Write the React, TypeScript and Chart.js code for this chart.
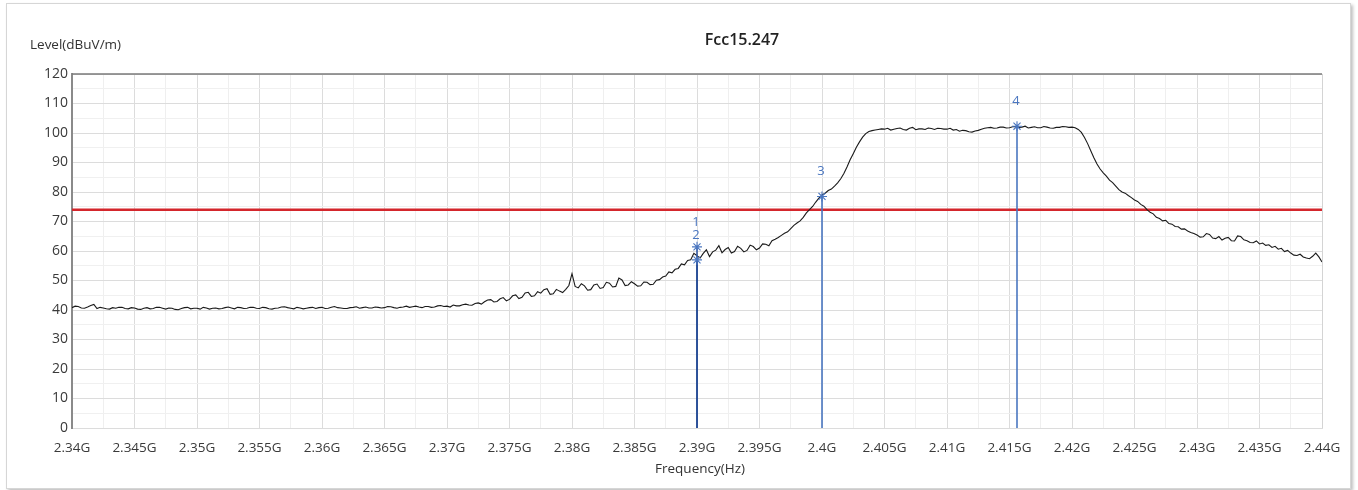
import React, { useEffect, useRef } from "react";
import { Chart, registerables } from "chart.js";

Chart.register(...registerables);

// Sweep definition (uniform analyzer sweep)
const freqStartGHz = 2.34;
const freqStepGHz = 0.00025;

// Measured level (dBuV/m), one value per sweep point, 2.340G .. 2.440G (20 points per 5 MHz)
const levels: number[] = [
  40.8, 41.3, 41.2, 40.7, 40.6, 41.0, 41.5, 41.9, 40.5, 40.9, 40.7, 40.4, 40.3, 40.8, 40.6, 40.9, 40.9, 40.5, 40.4, 40.8,
  40.7, 40.3, 40.2, 40.6, 40.8, 40.4, 40.5, 40.9, 40.9, 40.6, 40.3, 40.7, 40.6, 40.2, 40.1, 40.5, 40.8, 40.9, 40.4, 40.6,
  40.6, 40.3, 40.9, 40.7, 40.3, 40.6, 40.7, 40.4, 40.5, 40.8, 41.0, 40.7, 40.4, 40.9, 40.8, 40.5, 40.6, 40.9, 40.9, 40.6,
  40.5, 40.9, 40.8, 40.4, 40.3, 40.6, 40.7, 41.0, 41.1, 40.8, 40.6, 40.4, 40.9, 40.7, 40.4, 40.6, 40.8, 40.9, 40.5, 40.8,
  40.9, 40.5, 40.6, 40.9, 41.2, 40.8, 40.7, 40.5, 40.5, 40.8, 40.9, 41.1, 40.6, 40.8, 41.0, 40.7, 40.7, 41.0, 40.9, 40.7,
  40.8, 41.2, 41.1, 40.8, 40.6, 40.9, 41.0, 41.3, 40.9, 41.1, 41.3, 41.0, 40.8, 41.2, 41.2, 40.9, 41.0, 41.4, 41.5, 41.2,
  41.3, 41.0, 41.7, 41.4, 41.4, 41.8, 42.0, 41.7, 41.6, 42.2, 42.4, 42.0, 42.8, 43.4, 43.5, 42.7, 42.9, 43.8, 44.2, 43.1,
  43.6, 44.8, 45.1, 43.9, 44.3, 45.8, 46.0, 44.6, 44.8, 46.2, 45.7, 46.9, 47.2, 45.3, 45.5, 47.0, 46.4, 45.9, 47.0, 48.3,
  52.3, 48.0, 47.5, 48.9, 48.2, 46.7, 46.9, 48.5, 48.8, 47.3, 47.6, 49.4, 49.1, 47.8, 48.0, 50.8, 50.2, 48.3, 48.5, 49.6,
  48.9, 48.1, 48.2, 49.5, 49.4, 48.6, 48.7, 50.1, 50.3, 51.2, 51.5, 52.9, 52.6, 53.8, 54.1, 55.6, 55.3, 56.8, 57.0, 59.2,
  58.4, 57.6, 59.2, 60.4, 58.1, 59.7, 60.3, 61.8, 59.4, 60.5, 61.2, 59.3, 59.8, 61.6, 60.9, 59.7, 60.2, 62.0, 61.5, 60.4,
  61.0, 62.4, 62.3, 61.8, 63.5, 64.0, 64.6, 65.3, 66.0, 66.5, 67.6, 68.7, 69.5, 70.2, 71.4, 72.9, 74.0, 75.1, 76.6, 77.9,
  79.0, 79.6, 80.5, 81.0, 82.0, 83.1, 84.5, 86.3, 88.5, 90.9, 93.0, 95.2, 97.0, 98.6, 99.8, 100.5, 100.8, 101.0, 101.2, 101.4,
  101.3, 101.6, 101.0, 101.3, 101.5, 101.7, 101.2, 101.0, 101.6, 101.9, 101.1, 101.4, 101.4, 101.2, 101.7, 101.5, 101.2, 101.6, 101.5, 101.3,
  101.3, 101.6, 101.0, 101.2, 100.6, 100.9, 100.8, 100.4, 100.3, 100.7, 100.9, 101.3, 101.6, 101.8, 101.9, 101.6, 101.7, 102.0, 102.0, 101.7,
  101.8, 102.1, 102.2, 101.9, 102.0, 102.3, 101.7, 101.9, 102.1, 101.8, 101.8, 102.2, 102.0, 101.7, 101.6, 101.9, 101.9, 102.2, 102.1, 101.9,
  102.0, 101.8, 101.2, 100.2, 98.5, 96.4, 94.0, 91.6, 89.5, 87.8, 86.5, 85.4, 84.0, 83.2, 82.0, 80.8, 80.0, 79.6, 78.8, 78.1,
  77.3, 76.8, 75.8, 75.2, 74.0, 73.1, 72.6, 71.4, 71.0, 70.2, 70.4, 69.3, 69.1, 68.3, 68.2, 67.4, 67.5, 66.8, 66.3, 65.9,
  65.4, 64.7, 64.8, 65.9, 65.6, 64.4, 64.2, 64.9, 63.7, 64.3, 64.6, 63.5, 63.4, 65.1, 64.9, 63.8, 63.5, 62.9, 62.8, 63.4,
  62.4, 62.7, 61.9, 62.1, 61.2, 61.6, 60.6, 60.9, 59.8, 60.2, 59.3, 58.6, 58.5, 58.9, 58.0, 57.6, 57.4, 58.2, 59.3, 58.0,
  56.3,
];

const limitLevel = 74;

const xTickValues: number[] = [
  2.34, 2.345, 2.35, 2.355, 2.36, 2.365, 2.37, 2.375, 2.38, 2.385, 2.39,
  2.395, 2.4, 2.405, 2.41, 2.415, 2.42, 2.425, 2.43, 2.435, 2.44,
];
const xTickLabels: string[] = [
  "2.34G", "2.345G", "2.35G", "2.355G", "2.36G", "2.365G", "2.37G", "2.375G",
  "2.38G", "2.385G", "2.39G", "2.395G", "2.4G", "2.405G", "2.41G", "2.415G",
  "2.42G", "2.425G", "2.43G", "2.435G", "2.44G",
];
const yTickValues: number[] = [0, 10, 20, 30, 40, 50, 60, 70, 80, 90, 100, 110, 120];

const markerNames: string[] = ["1", "2", "3", "4"];
const markerFreqs: number[] = [2.39, 2.39, 2.4, 2.4156];
const markerLevels: number[] = [61.4, 57.0, 78.5, 102.3];

const chartTitle = "Fcc15.247";
const yTitle = "Level(dBuV/m)";
const xTitle = "Frequency(Hz)";

const FONT = "'Open Sans', 'Noto Sans', sans-serif";
const MARKER_COLOR = "#4a76c0";

export default function App() {
  const ref = useRef<HTMLCanvasElement | null>(null);

  useEffect(() => {
    if (!ref.current) return;

    const trace = levels.map((v, i) => ({ x: freqStartGHz + i * freqStepGHz, y: v }));

    const markerLineSets = markerFreqs.map((f, i) => ({
      type: "line" as const,
      data: [
        { x: f, y: 0 },
        { x: f, y: markerLevels[i] },
      ],
      borderColor: i < 2 ? "rgba(25,65,145,0.85)" : MARKER_COLOR,
      borderWidth: 1.6,
      pointRadius: 0,
    }));

    const overlay = {
      id: "overlay",
      beforeDatasetsDraw(chart: any) {
        const { ctx, chartArea } = chart;
        ctx.save();
        ctx.strokeStyle = "#7a7a7a";
        ctx.lineWidth = 1.5;
        ctx.beginPath();
        ctx.moveTo(chartArea.left, chartArea.top);
        ctx.lineTo(chartArea.right, chartArea.top);
        ctx.stroke();
        ctx.strokeStyle = "#d4d4d4";
        ctx.lineWidth = 1;
        ctx.beginPath();
        ctx.moveTo(chartArea.right + 0.5, chartArea.top);
        ctx.lineTo(chartArea.right + 0.5, chartArea.bottom);
        ctx.stroke();
        ctx.restore();
      },
      afterDraw(chart: any) {
        const { ctx, chartArea, scales } = chart;
        ctx.save();
        ctx.textBaseline = "middle";
        ctx.textAlign = "center";
        ctx.fillStyle = "#222";
        ctx.font = `600 16px ${FONT}`;
        ctx.fillText(chartTitle, chartArea.left + (chartArea.right - chartArea.left) / 2 + 45, 40);
        ctx.font = `13.5px ${FONT}`;
        ctx.fillStyle = "#333";
        ctx.textAlign = "left";
        ctx.fillText(yTitle, 30, 45);
        ctx.textAlign = "center";
        ctx.fillText(xTitle, chartArea.left + (chartArea.right - chartArea.left) / 2 + 3, 469);

        ctx.fillStyle = MARKER_COLOR;
        ctx.font = `13px ${FONT}`;
        markerNames.forEach((name, i) => {
          const px = scales.x.getPixelForValue(markerFreqs[i]);
          const py = scales.y.getPixelForValue(markerLevels[i]);
          ctx.fillText(name, px - 1, py - 25);
        });
        ctx.restore();
      },
    };

    const chart = new Chart(ref.current, {
      type: "line",
      data: {
        datasets: [
          {
            type: "scatter" as const,
            data: markerFreqs.map((f, i) => ({ x: f, y: markerLevels[i] })),
            pointStyle: "star",
            pointRadius: 5,
            borderColor: MARKER_COLOR,
            backgroundColor: MARKER_COLOR,
            borderWidth: 1.1,
          } as any,
          ...markerLineSets,
          {
            data: trace,
            borderColor: "#1a1a1a",
            borderWidth: 1.1,
            pointRadius: 0,
            tension: 0,
          },
          {
            data: [
              { x: freqStartGHz, y: limitLevel },
              { x: xTickValues[xTickValues.length - 1], y: limitLevel },
            ],
            borderColor: "#d4262c",
            borderWidth: 2.6,
            pointRadius: 0,
          },
        ],
      },
      options: {
        animation: false,
        responsive: true,
        maintainAspectRatio: false,
        layout: { padding: { top: 74, right: 36, left: 0, bottom: 0 } },
        plugins: {
          legend: { display: false },
          tooltip: { enabled: false },
          title: { display: false },
        },
        scales: {
          x: {
            type: "linear",
            min: xTickValues[0],
            max: xTickValues[xTickValues.length - 1],
            afterBuildTicks: (scale: any) => {
              const t: any[] = [];
              xTickValues.forEach((v, i) => {
                t.push({ value: v, major: true });
                if (i < xTickValues.length - 1) t.push({ value: (v + xTickValues[i + 1]) / 2, major: false });
              });
              scale.ticks = t;
            },
            afterFit: (scale: any) => {
              scale.height = 62;
            },
            ticks: {
              autoSkip: false,
              maxRotation: 0,
              padding: 12,
              color: "#3a3a3a",
              font: { family: FONT, size: 13.5 },
              callback: (value: any) => {
                const idx = xTickValues.findIndex((v) => Math.abs(v - value) < 1e-7);
                return idx >= 0 ? xTickLabels[idx] : "";
              },
            },
            grid: {
              drawTicks: false,
              color: (c: any) => (c.tick && c.tick.major ? "#dcdcdc" : "#efefef"),
              lineWidth: 1,
            },
            border: { display: true, color: "#dcdcdc", width: 1 },
          },
          y: {
            type: "linear",
            min: 0,
            max: 120,
            afterBuildTicks: (scale: any) => {
              const t: any[] = [];
              yTickValues.forEach((v, i) => {
                t.push({ value: v, major: true });
                if (i < yTickValues.length - 1) t.push({ value: v + 5, major: false });
              });
              scale.ticks = t;
            },
            afterFit: (scale: any) => {
              scale.width = 72;
            },
            ticks: {
              autoSkip: false,
              padding: 4,
              color: "#3a3a3a",
              font: { family: FONT, size: 14 },
              callback: (value: any) => (yTickValues.includes(value) ? String(value) : ""),
            },
            grid: {
              drawTicks: false,
              color: (c: any) => (c.tick && c.tick.major ? "#dcdcdc" : "#f0f0f0"),
              lineWidth: 1,
            },
            border: { display: true, color: "#8a8a8a", width: 2 },
          },
        },
      },
      plugins: [overlay],
    } as any);

    return () => chart.destroy();
  }, []);

  return (
    <div style={{ position: "absolute", left: 0, top: 0, width: 1358, height: 490, background: "#fff" }}>
      <div
        style={{
          position: "absolute",
          left: 6,
          top: 3,
          width: 1343,
          height: 484,
          border: "1px solid #d6d6d6",
          boxShadow: "2px 2px 3px rgba(0,0,0,0.25)",
        }}
      />
      <canvas ref={ref} style={{ position: "absolute", left: 0, top: 0, width: 1358, height: 490 }} />
    </div>
  );
}
